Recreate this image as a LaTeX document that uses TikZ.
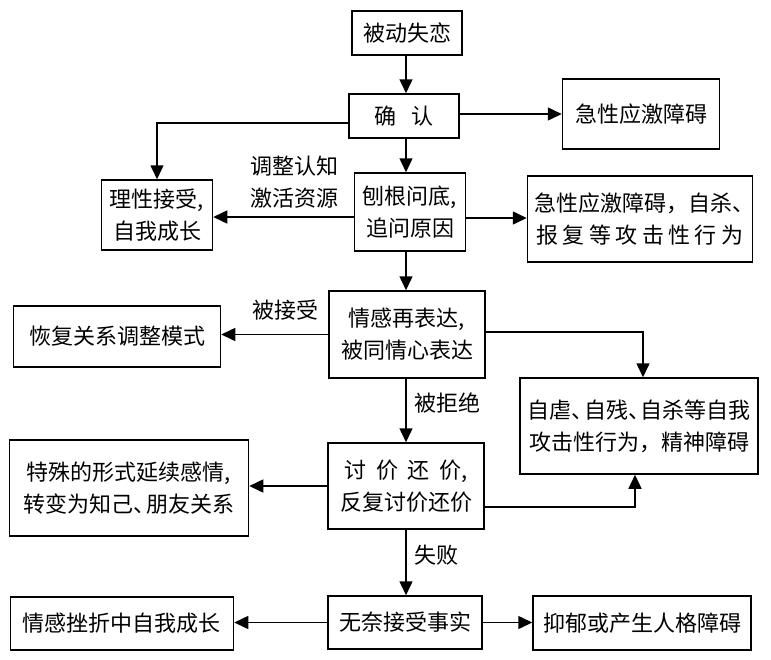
\documentclass[tikz,border=0pt]{standalone}
\usepackage{fontspec}
\setmainfont{Noto Sans CJK SC}
\usetikzlibrary{arrows.meta}
\newcommand{\dun}{\makebox[0.55em][l]{、}}
\begin{document}
\begin{tikzpicture}[x=1pt,y=-1pt,
  box/.style={draw,line width=1.5pt,inner sep=0pt,align=center,font=\fontsize{22}{32}\selectfont},
  lbl/.style={inner sep=0pt,align=center,font=\fontsize{22}{32}\selectfont},
  arr/.style={line width=1.5pt,-{Triangle[length=14pt,width=13pt]}},
  ln/.style={line width=1.5pt}]
\useasboundingbox (0,0) rectangle (771,659);
\fill[white] (0,0) rectangle (771,659);
% boxes
\node[box,minimum width=110pt,minimum height=44pt] (a) at (407,33) {被动失恋};
\node[box,minimum width=110pt,minimum height=44pt] (b) at (404,116) {确\hspace{0.7em}认};
\node[box,minimum width=157pt,minimum height=70pt] (c) at (641,114) {急性应激障碍};
\node[box,minimum width=111pt,minimum height=70pt] (d) at (157,215) {理性接受,\\自我成长};
\node[box,minimum width=111pt,minimum height=78pt] (e) at (410,212) {刨根问底,\\追问原因};
\node[box,minimum width=225pt,minimum height=86pt] (f) at (640,219) {急性应激障碍，自杀\dun\\\makebox[9.4em]{报\hfill 复\hfill 等\hfill 攻\hfill 击\hfill 性\hfill 行\hfill 为}};
\node[box,minimum width=156pt,minimum height=87pt] (g) at (407,334.5) {情感再表达,\\被同情心表达};
\node[box,minimum width=207pt,minimum height=61pt] (h) at (117,336.5) {恢复关系调整模式};
\node[box,minimum width=238pt,minimum height=96pt] (i) at (639,426) {自虐\dun 自残\dun 自杀等自我\\攻击性行为，精神障碍};
\node[box,minimum width=156pt,minimum height=86pt] (j) at (406,486) {\makebox[5.6em]{讨\hfill 价\hfill 还\hfill 价,}\\反复讨价还价};
\node[box,minimum width=239pt,minimum height=96pt] (k) at (129,488) {特殊的形式延续感情,\\转变为知己\dun 朋友关系};
\node[box,minimum width=154pt,minimum height=53pt] (l) at (405,622.5) {无奈接受事实};
\node[box,minimum width=223pt,minimum height=53pt] (m) at (122,623.5) {情感挫折中自我成长};
\node[box,minimum width=218pt,minimum height=54pt] (n) at (642,623) {抑郁或产生人格障碍};
% labels
\node[lbl] (t1) at (294,182) {调整认知\\激活资源};
\node[lbl] (t2) at (285,310) {被接受};
\node[lbl] (t3) at (447,403) {被拒绝};
\node[lbl] (t4) at (436,555) {失败};
% connectors
\coordinate (vx) at (406,0);
\draw[arr] (a.south -| vx) -- (b.north -| vx);
\draw[arr] (b.east |- c.west) -- (c.west);
\draw[arr] ([yshift=-7pt]b.west) -| (d.north);
\draw[arr] (b.south -| vx) -- (e.north -| vx);
\draw[arr] ([yshift=-5pt]e.west) -- ([yshift=-5pt]e.west -| d.east);
\draw[arr] ([yshift=-6pt]e.east) -- ([yshift=-6pt]e.east -| f.west);
\draw[arr] (e.south -| vx) -- (g.north -| vx);
\draw[arr] (g.west) -- (g.west -| h.east);
\draw[arr] ([yshift=2.5pt]g.east) -| ([xshift=4pt]i.north);
\draw[arr] (g.south -| vx) -- (j.north -| vx);
\draw[arr] (j.west) -- (j.west -| k.east);
\draw[arr] ([yshift=-21pt]j.east) -| ([xshift=-4pt]i.south);
\draw[arr] (j.south -| vx) -- (l.north -| vx);
\draw[arr] (l.west) -- (l.west -| m.east);
\draw[arr] (l.east) -- (l.east -| n.west);
\end{tikzpicture}
\end{document}
